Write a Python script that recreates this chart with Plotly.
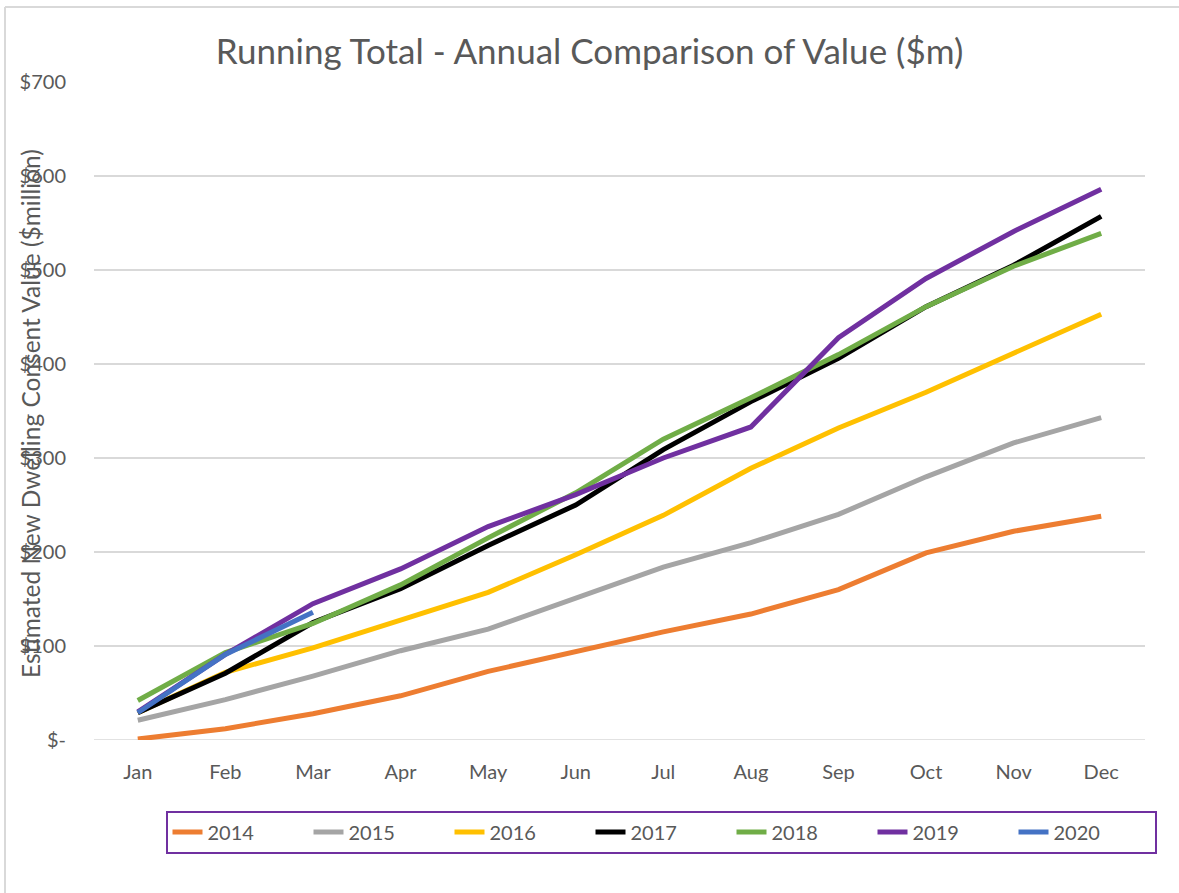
import plotly.graph_objects as go

months = ["Jan", "Feb", "Mar", "Apr", "May", "Jun", "Jul", "Aug", "Sep", "Oct", "Nov", "Dec"]
v2014 = [1, 12, 28, 47, 73, 94, 115, 134, 160, 199, 222, 238]
v2015 = [21, 43, 68, 95, 118, 151, 184, 210, 240, 280, 316, 343]
v2016 = [29, 72, 98, 128, 157, 197, 239, 289, 332, 370, 412, 453]
v2017 = [29, 71, 125, 161, 207, 250, 309, 360, 406, 461, 505, 557]
v2018 = [42, 93, 124, 165, 215, 263, 320, 364, 410, 461, 504, 539]
v2019 = [30, 91, 145, 182, 227, 261, 300, 333, 428, 491, 541, 586]
v2020 = [29, 91, 136]

series = [
    ("2014", v2014, "#ED7D31"),
    ("2015", v2015, "#A5A5A5"),
    ("2016", v2016, "#FFC000"),
    ("2017", v2017, "#000000"),
    ("2018", v2018, "#70AD47"),
    ("2019", v2019, "#7030A0"),
    ("2020", v2020, "#4472C4"),
]

tick_vals = [0, 100, 200, 300, 400, 500, 600, 700]
tick_text = ["$-", "$100", "$200", "$300", "$400", "$500", "$600", "$700"]

FONT = "Lato, Open Sans, Arial"
GREY = "#595959"

L, R, T, B = 94, 34, 82, 153
PW = 1179 - L - R
PH = 893 - T - B


def px_x(p):
    return (p - L) / PW


def px_y(p):
    return (893 - B - p) / PH


fig = go.Figure()
for name, vals, color in series:
    fig.add_trace(go.Scatter(
        x=months[:len(vals)], y=vals, name=name, mode="lines",
        line=dict(color=color, width=5),
    ))

fig.update_layout(
    width=1179, height=893,
    plot_bgcolor="white", paper_bgcolor="white",
    margin=dict(l=L, r=R, t=T, b=B),
    font=dict(family=FONT, color=GREY, size=20),
    title=dict(text="Running Total - Annual Comparison of Value ($m)",
               x=0.5, xanchor="center", y=1 - 52 / 893, yanchor="middle",
               font=dict(size=35, color=GREY, family=FONT)),
    xaxis=dict(type="category", categoryorder="array", categoryarray=months,
               showgrid=False, showline=False, ticks="",
               ticklabelstandoff=18,
               tickfont=dict(size=20, color=GREY),
               range=[-0.5, 11.5], zeroline=False),
    yaxis=dict(range=[0, 700], tickvals=tick_vals, ticktext=tick_text,
               showgrid=True, gridcolor="#D9D9D9", gridwidth=1.5,
               zeroline=False, showline=False, ticks="",
               ticklabelstandoff=27,
               tickfont=dict(size=20, color=GREY)),
    legend=dict(orientation="h", x=px_x(661), xanchor="center", y=px_y(832),
                yanchor="middle", bordercolor="#7030A0", borderwidth=2,
                entrywidth=96, entrywidthmode="pixels",
                font=dict(size=20, color=GREY),
                traceorder="normal"),
    annotations=[dict(
        text="Estimated New Dwelling Consent Value ($million)",
        xref="paper", yref="paper", x=px_x(30), y=px_y(414),
        textangle=-90, showarrow=False, xanchor="center", yanchor="middle",
        font=dict(size=24.5, color=GREY, family=FONT))],
    shapes=[
        dict(type="line", xref="paper", yref="paper",
             x0=px_x(5), x1=px_x(5), y0=px_y(7), y1=px_y(900),
             line=dict(color="#D9D9D9", width=2)),
        dict(type="line", xref="paper", yref="paper",
             x0=px_x(5), x1=px_x(1185), y0=px_y(7), y1=px_y(7),
             line=dict(color="#D9D9D9", width=2)),
        dict(type="line", xref="paper", yref="y",
             x0=0, x1=1, y0=0, y1=0, line=dict(color="#D9D9D9", width=1.5), layer="below"),
    ],
)

fig.write_html("out.html", config={"displayModeBar": False},
               post_script="document.body.style.margin='0';")
